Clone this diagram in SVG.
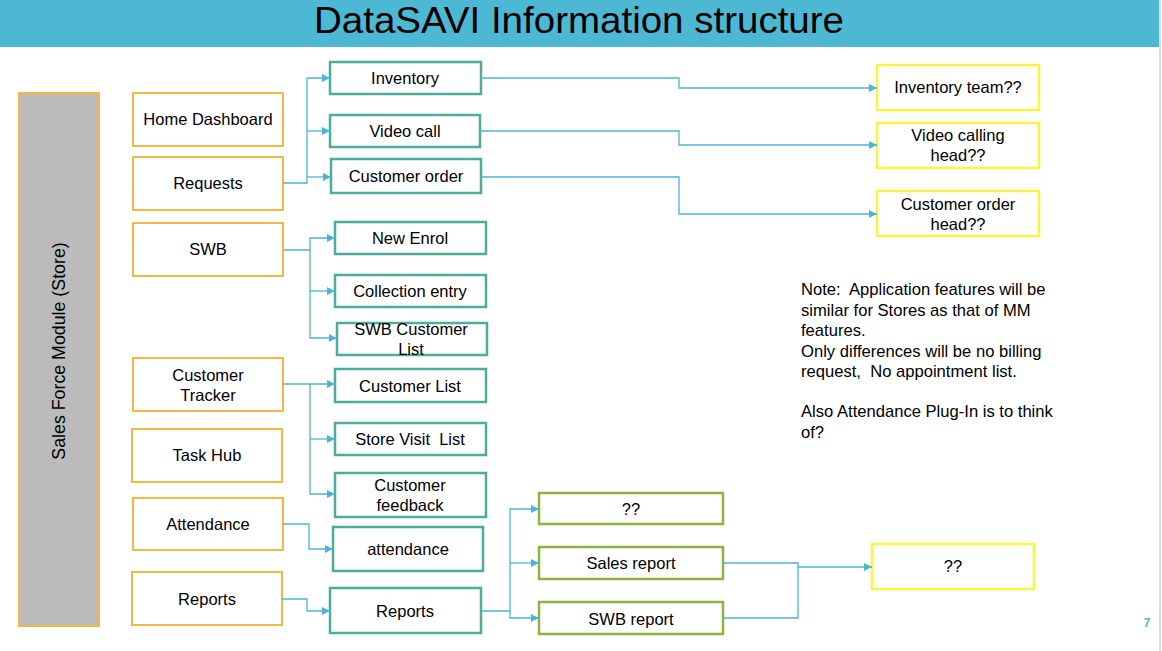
<svg xmlns="http://www.w3.org/2000/svg" width="1162" height="651" viewBox="0 0 1162 651">
<defs>
<marker id="arr" viewBox="0 0 10 10" refX="10" refY="5" markerWidth="8" markerHeight="8" markerUnits="userSpaceOnUse" orient="auto">
<path d="M0,0 L10,5 L0,10 z" fill="#4bb6d3"/>
</marker>
<style>
text{white-space:pre}
.t{font-family:"Liberation Sans",Arial,sans-serif;font-size:16.5px;fill:#000;text-anchor:middle}
.n{font-family:"Liberation Sans",Arial,sans-serif;font-size:16.6px;fill:#000}
.o{fill:#fff;stroke:#f5b73f;stroke-width:2}
.g{fill:#fff;stroke:#4eac9c;stroke-width:2.5}
.v{fill:#fff;stroke:#8bb63b;stroke-width:2.5}
.y{fill:#fff;stroke:#fdf23e;stroke-width:2.5}
.c{fill:none;stroke:#4bb6d3;stroke-width:1.3}
</style>
</defs>
<rect width="1162" height="651" fill="#fff"/>
<rect x="0" y="0" width="1159" height="47" fill="#4cb8d4"/>
<line x1="1160" y1="0" x2="1160" y2="651" stroke="#d0d0d0" stroke-width="1.5"/>
<text x="579" y="33" font-family="'Liberation Sans',Arial,sans-serif" font-size="37" text-anchor="middle" textLength="530" lengthAdjust="spacingAndGlyphs" fill="#000">DataSAVI Information structure</text>

<g id="sales-force">
<rect x="19" y="93" width="80" height="533" fill="#bbbbbb" stroke="#f5b73f" stroke-width="2"/>
<text class="t" style="font-size:17.8px" transform="translate(65,351) rotate(-90)">Sales Force Module (Store)</text>
</g>

<g id="home-dashboard"><rect class="o" x="133" y="93" width="150" height="53"/><text class="t" x="208" y="125">Home Dashboard</text></g>
<g id="requests"><rect class="o" x="133" y="157" width="150" height="53"/><text class="t" x="208" y="189">Requests</text></g>
<g id="swb"><rect class="o" x="133" y="223" width="150" height="53"/><text class="t" x="208" y="255">SWB</text></g>
<g id="customer-tracker"><rect class="o" x="133" y="358" width="150" height="53"/><text class="t" x="208" y="381">Customer</text><text class="t" x="208" y="401">Tracker</text></g>
<g id="task-hub"><rect class="o" x="132" y="429" width="150" height="53"/><text class="t" x="207" y="461">Task Hub</text></g>
<g id="attendance"><rect class="o" x="133" y="498" width="150" height="52"/><text class="t" x="208" y="530">Attendance</text></g>
<g id="reports"><rect class="o" x="132" y="572" width="150" height="53"/><text class="t" x="207" y="605">Reports</text></g>

<g id="inventory"><rect class="g" x="330" y="62" width="151" height="32"/><text class="t" x="405" y="84">Inventory</text></g>
<g id="video-call"><rect class="g" x="330" y="115" width="150" height="32"/><text class="t" x="405" y="137">Video call</text></g>
<g id="customer-order"><rect class="g" x="331" y="159" width="150" height="34"/><text class="t" x="406" y="182">Customer order</text></g>
<g id="new-enrol"><rect class="g" x="335" y="222" width="151" height="32"/><text class="t" x="410" y="244">New Enrol</text></g>
<g id="collection-entry"><rect class="g" x="335" y="275" width="151" height="32"/><text class="t" x="410" y="297">Collection entry</text></g>
<g id="swb-customer-list"><rect class="g" x="337" y="323" width="150" height="32"/><text class="t" x="411" y="335">SWB Customer</text><text class="t" x="411" y="355">List</text></g>
<g id="customer-list"><rect class="g" x="335" y="369" width="151" height="33"/><text class="t" x="410" y="392">Customer List</text></g>
<g id="store-visit-list"><rect class="g" x="335" y="423" width="151" height="32"/><text class="t" x="410" y="445">Store Visit  List</text></g>
<g id="customer-feedback"><rect class="g" x="335" y="473" width="151" height="44"/><text class="t" x="410" y="491">Customer</text><text class="t" x="410" y="511">feedback</text></g>
<g id="attendance-sub"><rect class="g" x="333" y="527" width="150" height="44"/><text class="t" x="408" y="555">attendance</text></g>
<g id="reports-sub"><rect class="g" x="330" y="588" width="151" height="45"/><text class="t" x="405" y="617">Reports</text></g>

<g id="unknown-report"><rect class="v" x="539" y="493" width="184" height="31"/><text class="t" x="631" y="515">??</text></g>
<g id="sales-report"><rect class="v" x="539" y="547" width="184" height="32"/><text class="t" x="631" y="569">Sales report</text></g>
<g id="swb-report"><rect class="v" x="539" y="602" width="184" height="32"/><text class="t" x="631" y="625">SWB report</text></g>

<g id="inventory-team"><rect class="y" x="877" y="65" width="162" height="45"/><text class="t" x="958" y="93">Inventory team??</text></g>
<g id="video-calling-head"><rect class="y" x="877" y="123" width="162" height="45"/><text class="t" x="958" y="141">Video calling</text><text class="t" x="958" y="161">head??</text></g>
<g id="customer-order-head"><rect class="y" x="877" y="191" width="162" height="45"/><text class="t" x="958" y="210">Customer order</text><text class="t" x="958" y="230">head??</text></g>
<g id="report-target"><rect class="y" x="872" y="544" width="162" height="45"/><text class="t" x="953" y="572">??</text></g>

<g id="note">
<text class="n" x="801" y="295">Note:  Application features will be</text>
<text class="n" x="801" y="316">similar for Stores as that of MM</text>
<text class="n" x="801" y="336">features.</text>
<text class="n" x="801" y="357">Only differences will be no billing</text>
<text class="n" x="801" y="377">request,  No appointment list.</text>
<text class="n" x="801" y="417">Also Attendance Plug-In is to think</text>
<text class="n" x="801" y="438">of?</text>
</g>

<text x="1147" y="627" font-family="'Liberation Sans',Arial,sans-serif" font-size="12" font-weight="bold" fill="#4cb8d4" text-anchor="middle">7</text>

<g id="connectors">
<path class="c" d="M283,183 H307 V78 H330" marker-end="url(#arr)"/>
<path class="c" d="M307,131 H330" marker-end="url(#arr)"/>
<path class="c" d="M307,177 H331" marker-end="url(#arr)"/>
<path class="c" d="M481,78 H679 V88 H877" marker-end="url(#arr)"/>
<path class="c" d="M480,131 H679 V145 H877" marker-end="url(#arr)"/>
<path class="c" d="M481,177 H679 V214 H877" marker-end="url(#arr)"/>
<path class="c" d="M283,250 H310 V238 H335" marker-end="url(#arr)"/>
<path class="c" d="M310,250 V338 H337" marker-end="url(#arr)"/>
<path class="c" d="M310,291 H335" marker-end="url(#arr)"/>
<path class="c" d="M283,384 H335" marker-end="url(#arr)"/>
<path class="c" d="M310,384 V494 H335" marker-end="url(#arr)"/>
<path class="c" d="M310,439 H335" marker-end="url(#arr)"/>
<path class="c" d="M283,524 H309 V549 H333" marker-end="url(#arr)"/>
<path class="c" d="M282,599 H307 V611 H330" marker-end="url(#arr)"/>
<path class="c" d="M481,611 H510 V509 H539" marker-end="url(#arr)"/>
<path class="c" d="M510,563 H539" marker-end="url(#arr)"/>
<path class="c" d="M510,611 V618 H539" marker-end="url(#arr)"/>
<path class="c" d="M723,563 H798 V618 H723"/>
<path class="c" d="M798,567 H872" marker-end="url(#arr)"/>
</g>
</svg>
